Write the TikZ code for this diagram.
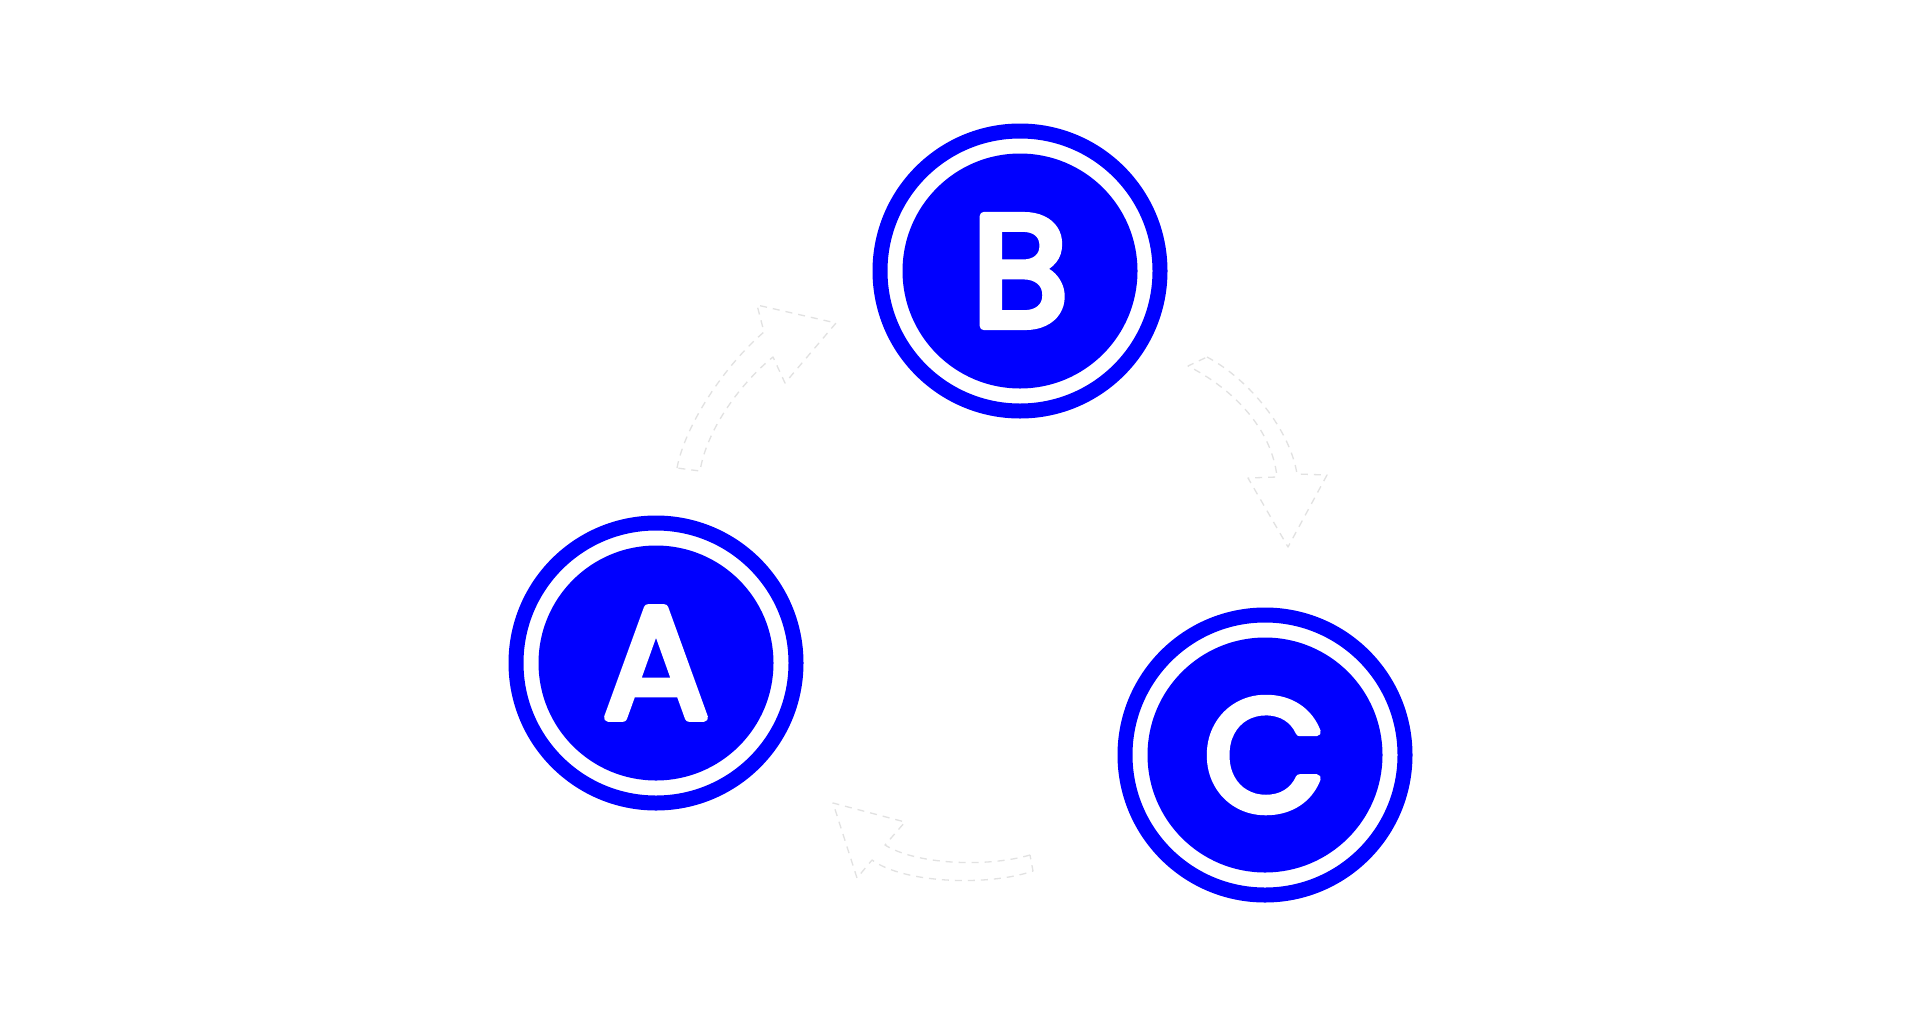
\documentclass[tikz,border=0pt]{standalone}
\usepackage{fontspec}
\newfontfamily\labfont{Poppins}
\definecolor{pureblue}{RGB}{0,0,255}
\definecolor{arrowgray}{RGB}{226,226,226}
\newcommand{\roundletter}[1]{\special{pdf:literal direct 1 j 1 J 8 w 2 Tr}#1\special{pdf:literal direct 0 Tr}}
\begin{document}
\begin{tikzpicture}[x=1pt,y=-1pt,
  disk/.style={circle, fill=pureblue, minimum size=235pt, inner sep=0pt, text=white,
    font=\labfont\fontsize{158pt}{158pt}\selectfont},
  ring/.style={draw=pureblue, line width=15pt},
  blockarrow/.style={draw=arrowgray, fill=white, line width=1.3pt,
    dash pattern=on 7pt off 6pt, line join=round}]
\useasboundingbox[fill=white] (0,0) rectangle (1920,1029);

% nodes
\node[disk] (B) at (1020,271) {\roundletter{B}};
\node[disk] (A) at (656,663) {\roundletter{A}};
\node[disk] (C) at (1265,755) {\roundletter{C}};
\draw[ring] (B.center) circle[radius=140pt];
\draw[ring] (A.center) circle[radius=140pt];
\draw[ring] (C.center) circle[radius=140pt];

% arrow A -> B
\draw[blockarrow] (677,468) .. controls (685,425) and (725,365) .. (764,332)
  -- (757,305) -- (836,323) -- (785,383) -- (773,357)
  .. controls (742,382) and (707,428) .. (700,471) -- cycle;

% arrow B -> C
\draw[blockarrow] (1207,357) .. controls (1250,380) and (1290,430) .. (1297,474)
  -- (1327,475) -- (1288,547) -- (1248,478) -- (1277,477)
  .. controls (1272,430) and (1235,390) .. (1188,366) -- cycle;

% arrow C -> A
\draw[blockarrow] (1030,855) .. controls (985,868) and (915,864) .. (885,845)
  -- (905,822) -- (833,803) -- (857,878) -- (872,860)
  .. controls (905,884) and (990,886) .. (1033,871) -- cycle;
\end{tikzpicture}
\end{document}
